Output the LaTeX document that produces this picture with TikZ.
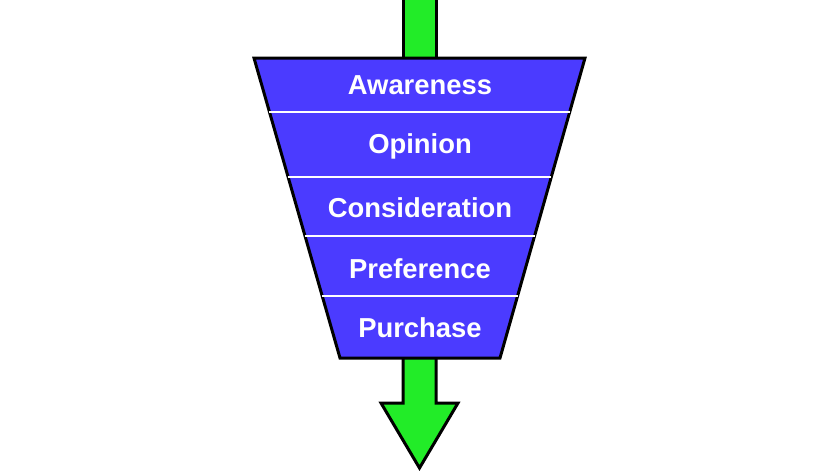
\documentclass[tikz,border=0pt]{standalone}
\usepackage{fontspec}
\setmainfont{Liberation Sans}
\usetikzlibrary{calc}
\definecolor{funnelblue}{RGB}{75,59,255}
\definecolor{flowgreen}{RGB}{34,236,40}
\begin{document}
\begin{tikzpicture}[x=1pt, y=-1pt, line join=miter,
  stage/.style = {text=white, anchor=base, font=\fontsize{27.4}{30}\selectfont\bfseries},
  rim/.style = {draw=black, line width=3pt},
  band/.style = {draw=white, line width=2pt}]
\useasboundingbox (0,0) rectangle (839,472);

% funnel corners
\coordinate (tl) at (254,58);
\coordinate (tr) at (585,58);
\coordinate (br) at (500,358);
\coordinate (bl) at (340,358);

% green flow, in and out
\draw[rim, fill=flowgreen] (403,-5) rectangle (436,60);
\draw[rim, fill=flowgreen] (403,356) -- (403,403) -- (381,403) -- (419.5,468)
  -- (458,403) -- (436,403) -- (436,356);

\draw[rim, fill=funnelblue] (tl) -- (tr) -- (br) -- (bl) -- cycle;

% stage dividers
\foreach \t in {0.18, 0.3967, 0.5933, 0.7933}
  \draw[band] ($(tl)!\t!(bl)$) -- ($(tr)!\t!(br)$);

\node[stage] (awareness) at (420,94) {Awareness};
\node[stage] (opinion) at (420,153) {Opinion};
\node[stage] (consideration) at (420,217) {Consideration};
\node[stage] (preference) at (420,278) {Preference};
\node[stage] (purchase) at (420,337) {Purchase};

\end{tikzpicture}
\end{document}
